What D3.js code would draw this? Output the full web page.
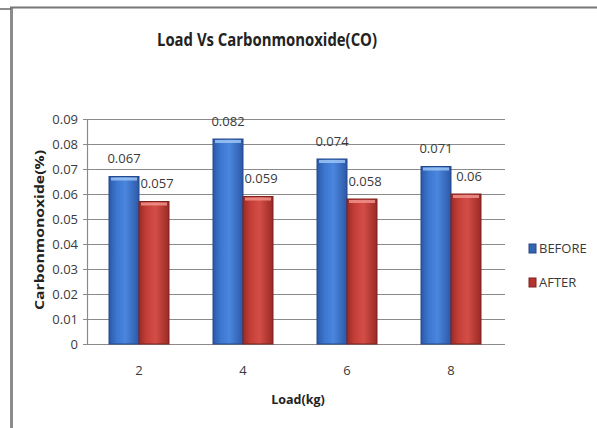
<!DOCTYPE html>
<meta charset="utf-8">
<style>
body { margin: 0; background: #fff; }
svg { display: block; font-family: 'Open Sans', sans-serif; }
.grid line { stroke: #8a8a8a; stroke-width: 1.2px; }
.lbl { fill: #3a3a3a; font-size: 13px; }
</style>
<body>
<script src="https://cdnjs.cloudflare.com/ajax/libs/d3/7.8.5/d3.min.js"></script>
<script>
var loads = ["2", "4", "6", "8"];
var before = [0.067, 0.082, 0.074, 0.071];
var after = [0.057, 0.059, 0.058, 0.06];
var seriesNames = ["BEFORE", "AFTER"];
var yTicks = [0, 0.01, 0.02, 0.03, 0.04, 0.05, 0.06, 0.07, 0.08, 0.09];

var width = 597, height = 428;
var svg = d3.select("body").append("svg")
    .attr("width", width).attr("height", height);

var defs = svg.append("defs");
function grad(id, dark, mid, light) {
  var g = defs.append("linearGradient").attr("id", id)
    .attr("x1", 0).attr("x2", 1).attr("y1", 0).attr("y2", 0);
  g.append("stop").attr("offset", "0%").attr("stop-color", dark);
  g.append("stop").attr("offset", "25%").attr("stop-color", mid);
  g.append("stop").attr("offset", "55%").attr("stop-color", light);
  g.append("stop").attr("offset", "100%").attr("stop-color", dark);
}
grad("gBlue", "#2c58a6", "#3c76cf", "#4a86de");
grad("gRed", "#9a2a25", "#c43e38", "#d44d46");
var fills = ["url(#gBlue)", "url(#gRed)"];
var edges = ["#24488a", "#7e221e"];
var highlights = ["#9cc6f5", "#f0928b"];
var legendColors = ["#3565b0", "#b53430"];

// frame lines
svg.append("line").attr("x1", 11.5).attr("x2", 11.5).attr("y1", 7).attr("y2", height)
  .attr("stroke", "#8c8c8c").attr("stroke-width", 3);
svg.append("line").attr("x1", 10).attr("x2", width).attr("y1", 7.5).attr("y2", 7.5)
  .attr("stroke", "#777").attr("stroke-width", 2);
svg.append("line").attr("x1", 0).attr("x2", 11).attr("y1", 9).attr("y2", 9)
  .attr("stroke", "#666").attr("stroke-width", 1.5);

var margin = {left: 87, right: 503, top: 119, bottom: 344};
var x = d3.scaleBand().domain(loads).range([margin.left, margin.right]);
var y = d3.scaleLinear().domain([0, 0.09]).range([margin.bottom, margin.top]);
var barW = 30;

// gridlines
var grid = svg.append("g").attr("class", "grid");
grid.selectAll("line").data(yTicks).enter().append("line")
  .attr("x1", margin.left - 4).attr("x2", margin.right + 2)
  .attr("y1", function(d) { return Math.round(y(d)) + 0.5; })
  .attr("y2", function(d) { return Math.round(y(d)) + 0.5; });
svg.append("line").attr("x1", margin.left + 0.5).attr("x2", margin.left + 0.5)
  .attr("y1", margin.top).attr("y2", margin.bottom)
  .attr("stroke", "#8a8a8a").attr("stroke-width", 1.2);

// y tick labels
svg.append("g").selectAll("text").data(yTicks).enter().append("text")
  .attr("class", "lbl")
  .attr("x", 78).attr("y", function(d) { return y(d); })
  .attr("dy", "0.35em").attr("text-anchor", "end")
  .text(function(d) { return d === 0 ? "0" : d3.format(".2f")(d); });

// bars
var series = [before, after];
series.forEach(function(vals, s) {
  var g = svg.append("g");
  var data = vals.map(function(v, i) { return {v: v, c: loads[i]}; });
  var bx = function(d) { return x(d.c) + x.bandwidth() / 2 - barW + s * barW; };
  g.selectAll("rect.bar").data(data).enter().append("rect")
    .attr("class", "bar")
    .attr("x", bx).attr("width", barW)
    .attr("y", function(d) { return y(d.v); })
    .attr("height", function(d) { return y(0) - y(d.v); })
    .attr("fill", fills[s]).attr("stroke", edges[s]).attr("stroke-width", 1);
  g.selectAll("rect.hl").data(data).enter().append("rect")
    .attr("class", "hl")
    .attr("x", function(d) { return bx(d) + 2; }).attr("width", barW - 4)
    .attr("y", function(d) { return y(d.v) + 1; }).attr("height", 3)
    .attr("fill", highlights[s]).attr("opacity", 0.85);
  g.selectAll("text").data(data).enter().append("text")
    .attr("class", "lbl")
    .attr("x", function(d) { return bx(d) + barW / 2 + s * 3; })
    .attr("y", function(d) { return y(d.v) - 13.5; })
    .attr("text-anchor", "middle")
    .text(function(d) { return String(d.v); });
});

// x tick labels
svg.append("g").selectAll("text").data(loads).enter().append("text")
  .attr("class", "lbl")
  .attr("x", function(d) { return x(d) + x.bandwidth() / 2; })
  .attr("y", 375).attr("text-anchor", "middle")
  .text(function(d) { return d; });

// titles
svg.append("text").attr("x", 267).attr("y", 46).attr("text-anchor", "middle")
  .attr("font-size", "17px").attr("font-weight", "bold").attr("fill", "#222")
  .attr("textLength", 220).attr("lengthAdjust", "spacingAndGlyphs")
  .text("Load Vs Carbonmonoxide(CO)");
svg.append("text").attr("x", 298).attr("y", 404).attr("text-anchor", "middle")
  .attr("font-size", "12.5px").attr("font-weight", "bold").attr("fill", "#222")
  .text("Load(kg)");
svg.append("text")
  .attr("transform", "translate(43.5,230) rotate(-90)")
  .attr("text-anchor", "middle")
  .attr("font-size", "12.5px").attr("font-weight", "bold").attr("fill", "#222")
  .attr("textLength", 160).attr("lengthAdjust", "spacingAndGlyphs")
  .text("Carbonmonoxide(%)");

// legend
var legend = svg.append("g").selectAll("g").data(seriesNames).enter().append("g")
  .attr("transform", function(d, i) { return "translate(529," + (244 + i * 34) + ")"; });
legend.append("rect").attr("width", 7).attr("height", 9)
  .attr("fill", function(d, i) { return legendColors[i]; })
  .attr("stroke", function(d, i) { return edges[i]; });
legend.append("text").attr("class", "lbl")
  .attr("x", 10).attr("y", 4.5).attr("dy", "0.35em")
  .text(function(d) { return d; });
</script>
</body>
